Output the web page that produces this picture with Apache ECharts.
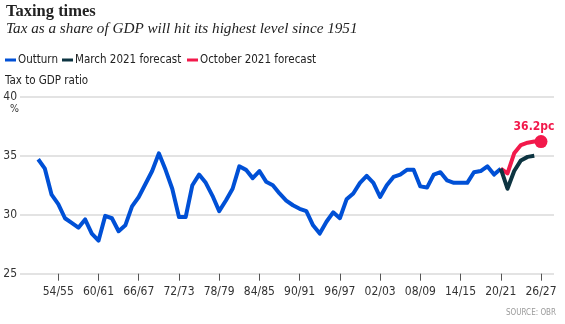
<!DOCTYPE html>
<html>
<head>
<meta charset="utf-8">
<script src="https://cdn.jsdelivr.net/npm/echarts@6/dist/echarts.min.js"></script>
<style>
  html, body { margin: 0; padding: 0; background: #fff; }
  #chart { width: 565px; height: 324px; }
</style>
</head>
<body>
<div id="chart"></div>
<script>
// Tax receipts as a share of GDP, by financial year (first year of each fiscal year)
const outturnStartYear = 1951;
const outturnValues = [
  34.7, 33.9, 31.7, 30.9, 29.7, 29.3, 28.9, 29.6, 28.4, 27.8,
  29.9, 29.7, 28.6, 29.1, 30.7, 31.5, 32.6, 33.7, 35.2, 33.8,
  32.2, 29.8, 29.8, 32.5, 33.4, 32.7, 31.6, 30.3, 31.2, 32.2,
  34.1, 33.8, 33.1, 33.7, 32.8, 32.5, 31.8, 31.2, 30.8, 30.5,
  30.3, 29.1, 28.4, 29.4, 30.2, 29.7, 31.3, 31.8, 32.7, 33.3,
  32.7, 31.5, 32.5, 33.2, 33.4, 33.8, 33.8, 32.4, 32.3, 33.4,
  33.6, 32.9, 32.7, 32.7, 32.7, 33.6, 33.7, 34.1, 33.4, 33.9
];
const marchStartYear = 2020;
const marchValues = [33.9, 32.2, 33.7, 34.6, 34.9, 35.0];
const octoberStartYear = 2020;
const octoberValues = [33.9, 33.5, 35.2, 35.9, 36.1, 36.2, 36.2];
const tickYears = [1954, 1960, 1966, 1972, 1978, 1984, 1990, 1996, 2002, 2008, 2014, 2020, 2026];
const seriesNames = ['Outturn', 'March 2021 forecast', 'October 2021 forecast'];

const BLUE = '#0050d6';
const DARK = '#0d3441';
const RED = '#f2194b';
const SANS = '"DejaVu Sans Condensed", "Roboto", sans-serif';
const SERIF = '"Liberation Serif", "DejaVu Serif", serif';

const toPairs = (start, vals) => vals.map((v, i) => [start + i, v]);
const pad2 = n => String(n % 100).padStart(2, '0');
const fyLabel = y => pad2(y) + '/' + pad2(y + 1);

const octoberData = toPairs(octoberStartYear, octoberValues).map((p, i, arr) =>
  i === arr.length - 1
    ? {
        value: p,
        symbol: 'circle',
        symbolSize: 13,
        itemStyle: { color: RED },
        label: {
          show: true,
          position: 'top',
          offset: [-7, 3],
          formatter: d => d.value[1].toFixed(1) + 'pc',
          color: RED,
          fontFamily: SANS,
          fontWeight: 'bold',
          fontSize: 12
        }
      }
    : p
);

const chart = echarts.init(document.getElementById('chart'), null, { renderer: 'canvas' });

const legendBase = {
  top: 49,
  icon: 'rect',
  itemWidth: 11,
  itemHeight: 3,
  itemGap: 10,
  selectedMode: false,
  textStyle: { fontFamily: SANS, fontSize: 11.5, color: '#222', padding: [0, 0, 0, -3] }
};

chart.setOption({
  animation: false,
  title: {
    left: 1,
    top: -2,
    text: 'Taxing times',
    subtext: 'Tax as a share of GDP will hit its highest level since 1951',
    itemGap: 2,
    textStyle: { fontFamily: SERIF, fontWeight: 'bold', fontSize: 16.5, color: '#222' },
    subtextStyle: { fontFamily: SERIF, fontStyle: 'italic', fontSize: 15.2, color: '#222' }
  },
  legend: [
    Object.assign({}, legendBase, { left: 0, data: [{ name: seriesNames[0] }] }),
    Object.assign({}, legendBase, { left: 57, data: [{ name: seriesNames[1] }] }),
    Object.assign({}, legendBase, { left: 182, data: [{ name: seriesNames[2] }] })
  ],
  graphic: [
    {
      type: 'text', left: 5, top: 75,
      style: { text: 'Tax to GDP ratio', font: '11.5px ' + SANS, fill: '#222' }
    },
    {
      type: 'text', left: 10, top: 104,
      style: { text: '%', font: '10.5px ' + SANS, fill: '#333' }
    },
    {
      type: 'text', right: 9, top: 309,
      style: { text: 'SOURCE: OBR', font: '8px ' + SANS, fill: '#9a9a9a' }
    }
  ],
  grid: { left: 20, right: 11, top: 96.7, bottom: 50.3 },
  xAxis: {
    type: 'value',
    min: 1948.29,
    max: 2027.94,
    axisLine: { show: false },
    splitLine: { show: false },
    axisTick: {
      show: true,
      customValues: tickYears,
      length: 7,
      lineStyle: { color: '#555', width: 1 }
    },
    axisLabel: {
      customValues: tickYears,
      formatter: v => fyLabel(v),
      margin: 12,
      fontFamily: SANS,
      fontSize: 12,
      color: '#333'
    }
  },
  yAxis: {
    type: 'value',
    min: 25,
    max: 40,
    interval: 5,
    axisLine: { show: false },
    axisTick: { show: false },
    axisLabel: { margin: 3, fontFamily: SANS, fontSize: 12, color: '#333' },
    splitLine: { lineStyle: { color: '#e3e3e3', width: 2 } }
  },
  series: [
    {
      name: seriesNames[0],
      type: 'line',
      data: toPairs(outturnStartYear, outturnValues),
      showSymbol: false,
      symbol: 'none',
      color: BLUE,
      lineStyle: { color: BLUE, width: 4, join: 'round' },
      z: 2
    },
    {
      name: seriesNames[2],
      type: 'line',
      data: octoberData,
      symbol: 'none',
      color: RED,
      lineStyle: { color: RED, width: 4, join: 'round' },
      z: 3
    },
    {
      name: seriesNames[1],
      type: 'line',
      data: toPairs(marchStartYear, marchValues),
      symbol: 'none',
      color: DARK,
      lineStyle: { color: DARK, width: 4, join: 'round' },
      z: 4
    }
  ]
});
</script>
</body>
</html>
